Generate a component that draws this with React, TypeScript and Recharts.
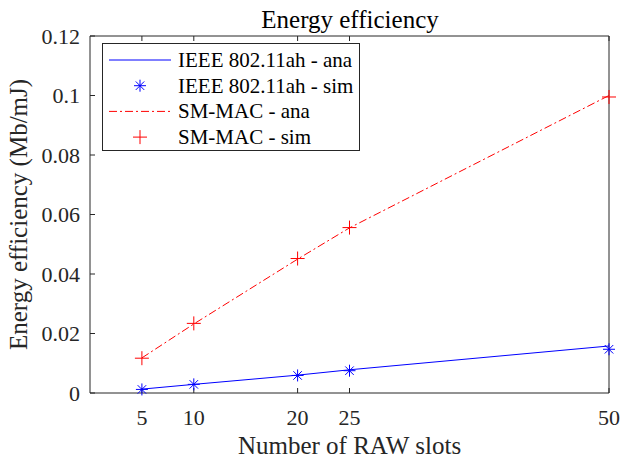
import React from 'react';
import {
  ComposedChart,
  Line,
  Scatter,
  XAxis,
  YAxis,
} from 'recharts';

const rawSlots = [5, 10, 20, 25, 50];
const ieeeAna = [0.0013, 0.0029, 0.006, 0.0078, 0.0158];
const ieeeSim = [0.0012, 0.0029, 0.0059, 0.0075, 0.0147];
const smAna = [0.0118, 0.0232, 0.045, 0.0555, 0.1];
const smSim = [0.0117, 0.0234, 0.0452, 0.0556, 0.0995];
const yTicks = [0, 0.02, 0.04, 0.06, 0.08, 0.1, 0.12];

const data = rawSlots.map((x, i) => ({
  x,
  ieeeAna: ieeeAna[i],
  ieeeSim: ieeeSim[i],
  smAna: smAna[i],
  smSim: smSim[i],
}));

const FONT = 'Liberation Serif, Times New Roman, serif';
const AXIS = '#262626';

const Star = ({ cx, cy }: any) => {
  const r = 6;
  const d = r * 0.707;
  return (
    <g stroke="#0000ff" strokeWidth={1}>
      <line x1={cx - r} y1={cy} x2={cx + r} y2={cy} />
      <line x1={cx} y1={cy - r} x2={cx} y2={cy + r} />
      <line x1={cx - d} y1={cy - d} x2={cx + d} y2={cy + d} />
      <line x1={cx - d} y1={cy + d} x2={cx + d} y2={cy - d} />
    </g>
  );
};

const Plus = ({ cx, cy }: any) => {
  const r = 7;
  return (
    <g stroke="#ff0000" strokeWidth={1}>
      <line x1={cx - r} y1={cy} x2={cx + r} y2={cy} />
      <line x1={cx} y1={cy - r} x2={cx} y2={cy + r} />
    </g>
  );
};

const legendRows = [
  { label: 'IEEE 802.11ah - ana', kind: 'line', color: '#0000ff' },
  { label: 'IEEE 802.11ah - sim', kind: 'star', color: '#0000ff' },
  { label: 'SM-MAC - ana', kind: 'dash', color: '#ff0000' },
  { label: 'SM-MAC - sim', kind: 'plus', color: '#ff0000' },
];

// legend drawn inside the chart svg, top-left corner at (102, 43)
const LegendBox = () => (
  <g transform="translate(102, 43)">
    <rect x={0.5} y={0.5} width={257} height={107} fill="#fff" stroke={AXIS} strokeWidth={1} />
    {legendRows.map((r, i) => {
      const y = 17 + i * 25.7;
      return (
        <g key={r.label}>
          {r.kind === 'line' && <line x1={7} x2={69} y1={y} y2={y} stroke={r.color} />}
          {r.kind === 'dash' && (
            <line x1={7} x2={69} y1={y} y2={y} stroke={r.color} strokeDasharray="8 3 2 3" />
          )}
          {r.kind === 'star' && <Star cx={38} cy={y} />}
          {r.kind === 'plus' && <Plus cx={38} cy={y} />}
          <text x={76} y={y + 7} fontFamily={FONT} fontSize={21} fill="#000">
            {r.label}
          </text>
        </g>
      );
    })}
  </g>
);

export default function App() {
  return (
    <div style={{ position: 'absolute', left: 0, top: 0, width: 624, height: 459, background: '#fff' }}>
      <ComposedChart
        width={624}
        height={459}
        data={data}
        margin={{ top: 0, right: 14, bottom: 0, left: 0 }}
      >
        <text x={350} y={28} textAnchor="middle" fontFamily={FONT} fontSize={25} fill="#000">
          Energy efficiency
        </text>
        <XAxis
          xAxisId="top"
          orientation="top"
          type="number"
          dataKey="x"
          domain={[0, 50]}
          ticks={rawSlots}
          height={36}
          stroke={AXIS}
          tickSize={-5}
          tickFormatter={() => ''}
        />
        <XAxis
          type="number"
          dataKey="x"
          domain={[0, 50]}
          ticks={rawSlots}
          height={66}
          stroke={AXIS}
          tickSize={-5}
          tickMargin={21}
          tick={{ fontFamily: FONT, fontSize: 22, fill: '#262626' }}
          label={{
            value: 'Number of RAW slots',
            position: 'insideBottom',
            offset: 5,
            fontFamily: FONT,
            fontSize: 25,
            fill: '#262626',
          }}
        />
        <YAxis
          type="number"
          domain={[0, 0.12]}
          ticks={yTicks}
          width={90}
          stroke={AXIS}
          tickSize={-5}
          tickMargin={15}
          tick={{ fontFamily: FONT, fontSize: 22, fill: '#262626' }}
          label={{
            value: 'Energy efficiency (Mb/mJ)',
            angle: -90,
            position: 'insideLeft',
            offset: 18,
            style: { textAnchor: 'middle' },
            fontFamily: FONT,
            fontSize: 25,
            fill: '#262626',
          }}
        />
        <YAxis
          yAxisId="right"
          orientation="right"
          type="number"
          domain={[0, 0.12]}
          ticks={yTicks}
          width={1}
          stroke={AXIS}
          tickSize={-5}
          tickFormatter={() => ''}
        />
        <Line
          dataKey="ieeeAna"
          stroke="#0000ff"
          strokeWidth={1}
          dot={false}
          isAnimationActive={false}
        />
        <Line
          dataKey="smAna"
          stroke="#ff0000"
          strokeWidth={1}
          strokeDasharray="8 3 2 3"
          dot={false}
          isAnimationActive={false}
        />
        <Scatter dataKey="ieeeSim" shape={<Star />} isAnimationActive={false} />
        <Scatter dataKey="smSim" shape={<Plus />} isAnimationActive={false} />
        <LegendBox />
      </ComposedChart>
    </div>
  );
}
